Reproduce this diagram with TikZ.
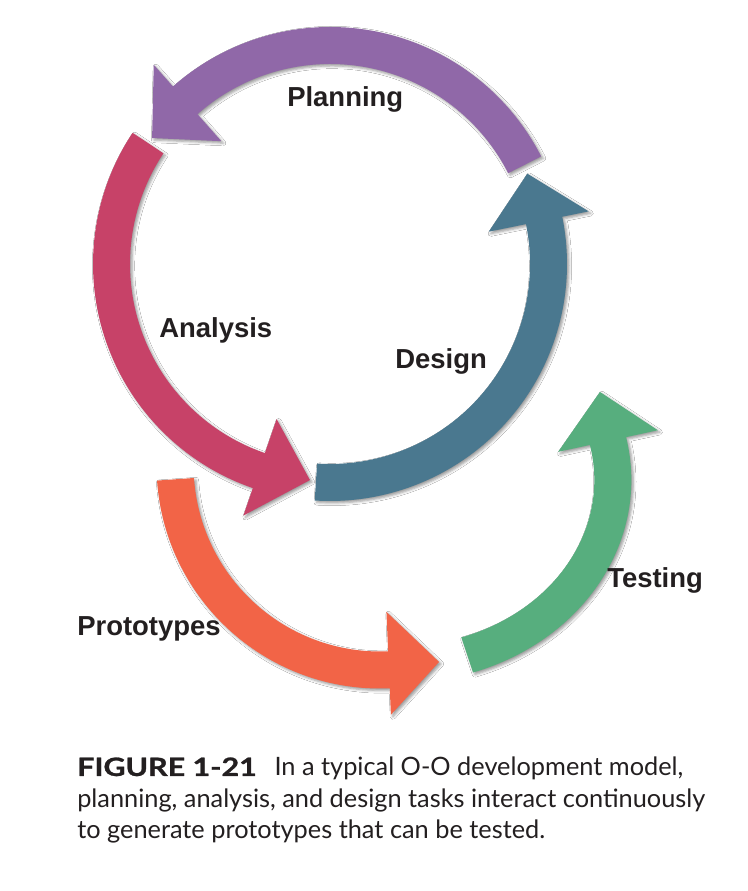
\documentclass[tikz,border=0pt]{standalone}
\usepackage{fontspec}
\setmainfont{Lato}
\newfontfamily\labelfont{Liberation Sans}
\usepackage{graphicx}
\usepackage{tikz}
\usetikzlibrary{shadows.blur}

\definecolor{planpurple}{HTML}{9068A8}
\definecolor{anared}{HTML}{C74268}
\definecolor{desblue}{HTML}{4A788F}
\definecolor{protorange}{HTML}{F26447}
\definecolor{testgreen}{HTML}{57AE7E}
\definecolor{ink}{HTML}{231F20}

\begin{document}
\begin{tikzpicture}[x=0.75pt,y=0.75pt,
    band/.style={blur shadow={shadow xshift=1.5pt,shadow yshift=-1.5pt,shadow blur radius=2pt,shadow opacity=40}},
    lbl/.style={font=\labelfont\bfseries\fontsize{20.6}{24}\selectfont,text=ink,inner sep=0pt,anchor=base west},
    captext/.style={font=\fontsize{19}{22}\selectfont,text=ink,inner sep=0pt,anchor=base west}]
    \fill[white] (0,0) rectangle (747,891);

    % upper ring
    \begin{scope}[shift={(330,627)}]
    % Analysis
    \fill[anared,band] (146.4:237) arc[start angle=146.4,end angle=251,radius=237]
        -- (251:266) -- (264.7:217) -- (251:164) -- (251:200)
        arc[start angle=251,end angle=146.4,radius=200] -- cycle;
    % Design
    \fill[desblue,band] (-93.7:237) arc[start angle=-93.7,end angle=11.5,radius=237]
        -- (11.5:264) -- (24.6:217) -- (11.5:162) -- (11.5:200)
        arc[start angle=11.5,end angle=-93.7,radius=200] -- cycle;
    % Planning
    \fill[planpurple,band] (27:237) arc[start angle=27,end angle=131.5,radius=237]
        -- (131.5:266) -- (144.7:218) -- (131.5:164) -- (131.5:200)
        arc[start angle=131.5,end angle=27,radius=200] -- cycle;
    \end{scope}

    % Prototypes
    \begin{scope}[shift={(380,426)}]
    \fill[protorange,band] (184:223.5) arc[start angle=184,end angle=272.5,radius=223.5]
        -- (272.5:250) -- (286.7:205.6) -- (272.5:147) -- (272.5:186.5)
        arc[start angle=272.5,end angle=184,radius=186.5] -- cycle;
    \end{scope}

    % Testing
    \begin{scope}[shift={(400,411)}]
    \fill[testgreen,band] (-71.6:231.3 and 202.9) arc[start angle=-71.6,end angle=12.2,x radius=231.3,y radius=202.9]
        -- (12.2:263.8 and 235.4) -- (26.9:224.2 and 194.6) -- (12.2:161.8 and 133.4) -- (12.2:194.3 and 165.9)
        arc[start angle=12.2,end angle=-71.6,x radius=194.3,y radius=165.9] -- cycle;
    \end{scope}

    % labels
    \node[lbl] (planning) at (287,784) {Planning};
    \node[lbl] (analysis) at (159,553) {Analysis};
    \node[lbl] (design) at (395,522) {Design};
    \node[lbl] (testing) at (607,303) {Testing};
    \node[lbl] (prototypes) at (77,255) {Prototypes};

    % caption
    \node[captext] (capa) at (77,115) {\scalebox{1.2}[1]{\textbf{\addfontfeature{FakeBold=1}FIGURE 1-21}}\hspace{0.7em}In a typical O-O development model,};
    \node[captext] (capb) at (77,83) {planning, analysis, and design tasks interact continuously};
    \node[captext] (capc) at (77,52.5) {to generate prototypes that can be tested.};
\end{tikzpicture}
\end{document}
